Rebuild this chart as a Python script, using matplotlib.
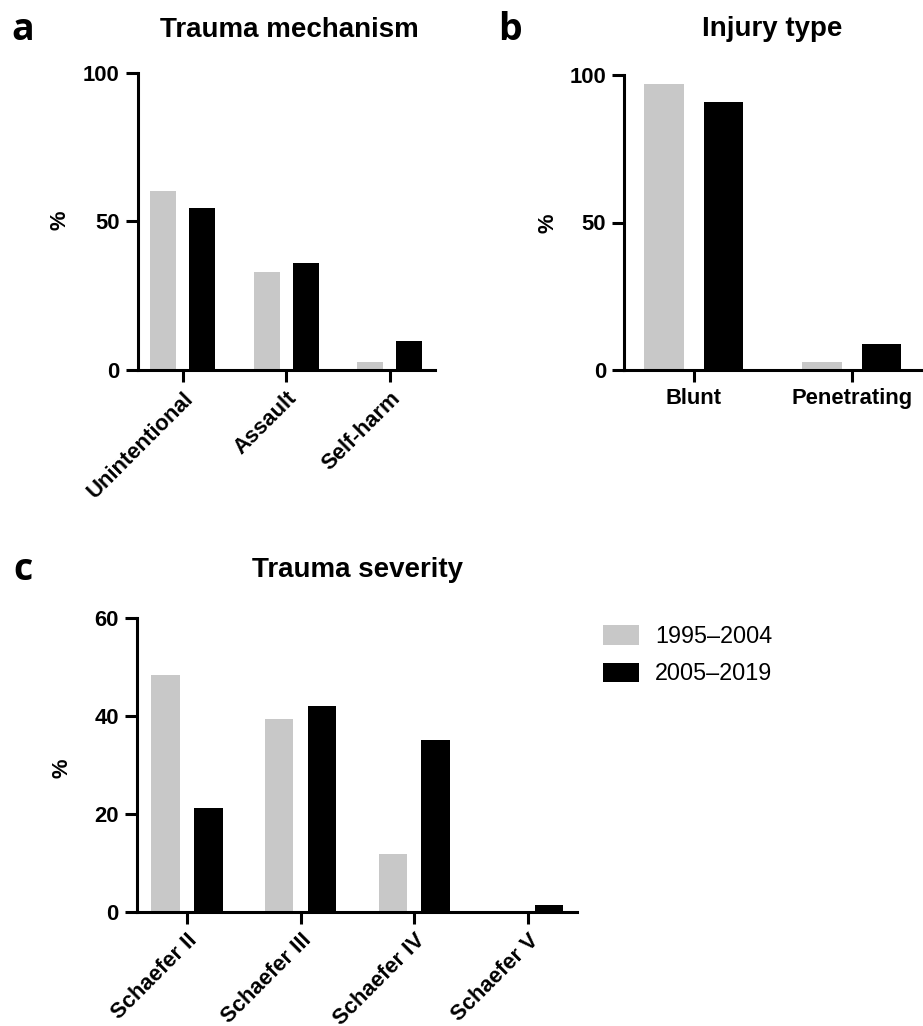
import matplotlib
matplotlib.use("Agg")
import matplotlib.pyplot as plt
import numpy as np
from matplotlib.patches import Patch

# ---- data ----
series_labels = ["1995\u20132004", "2005\u20132019"]
series_colors = ["#C8C8C8", "#000000"]

mech_categories = ["Unintentional", "Assault", "Self-harm"]
mech_early = [60.3, 33.0, 2.8]
mech_late = [54.5, 36.0, 9.8]

type_categories = ["Blunt", "Penetrating"]
type_early = [96.8, 2.8]
type_late = [91.0, 8.7]

sev_categories = ["Schaefer II", "Schaefer III", "Schaefer IV", "Schaefer V"]
sev_early = [48.5, 39.4, 11.9, 0.0]
sev_late = [21.3, 42.1, 35.1, 1.3]

W, H = 923, 1026
fig = plt.figure(figsize=(W / 100, H / 100), dpi=100)
plt.rcParams['font.family'] = ['Liberation Sans', 'DejaVu Sans']

TICK_FS = 15.8


def px_axes(left, top, right, bottom):
    return fig.add_axes([left / W, 1 - bottom / H, (right - left) / W, (bottom - top) / H])


def style(ax, cats, early, late, ylim, yticks, xlim, rot):
    x = np.arange(len(cats))
    bw = 0.25
    off = 0.189
    ax.bar(x - off, early, width=bw, color=series_colors[0], edgecolor='none')
    ax.bar(x + off, late, width=bw, color=series_colors[1], edgecolor='none')
    ax.set_xlim(*xlim)
    ax.set_ylim(*ylim)
    ax.set_yticks(yticks)
    ax.set_xticks(x)
    for s in ['top', 'right']:
        ax.spines[s].set_visible(False)
    for s in ['left', 'bottom']:
        ax.spines[s].set_linewidth(2.2)
    ax.tick_params(axis='both', length=8.5, width=2.2, labelsize=TICK_FS, pad=4.5)
    for lab in ax.get_yticklabels():
        lab.set_fontweight('bold')
    if rot:
        ax.set_xticklabels(cats, rotation=45, ha='right', rotation_mode='anchor',
                           fontweight='bold', fontsize=TICK_FS)
    else:
        ax.set_xticklabels(cats, fontweight='bold', fontsize=TICK_FS)
    ax.patch.set_visible(False)


ax_a = px_axes(137.7, 72.7, 435, 370)
style(ax_a, mech_categories, mech_early, mech_late, (0, 100), [0, 50, 100], (-0.436, 2.44), True)

ax_b = px_axes(624.3, 75, 921, 370)
style(ax_b, type_categories, type_early, type_late, (0, 100), [0, 50, 100], (-0.442, 1.44), False)

ax_c = px_axes(136.7, 618.3, 577.3, 911.7)
style(ax_c, sev_categories, sev_early, sev_late, (0, 60), [0, 20, 40, 60], (-0.443, 3.436), True)

# y labels
for (xp, yp) in [(60, 220), (548, 223), (62, 768)]:
    fig.text(xp / W, 1 - yp / H, "%", rotation=90, ha='center', va='center',
             fontsize=TICK_FS, fontweight='bold')

# titles
fig.text(289 / W, 1 - 37 / H, "Trauma mechanism", ha='center', va='baseline',
         fontsize=20, fontweight='bold')
fig.text(772.5 / W, 1 - 36 / H, "Injury type", ha='center', va='baseline',
         fontsize=20, fontweight='bold')
fig.text(358 / W, 1 - 577 / H, "Trauma severity", ha='center', va='baseline',
         fontsize=20, fontweight='bold')

# panel letters
for (xp, yp, t) in [(23, 40, "a"), (510, 40, "b"), (23, 580, "c")]:
    fig.text(xp / W, 1 - yp / H, t, ha='center', va='baseline', fontsize=27,
             fontweight='bold', family=['Open Sans', 'DejaVu Sans'])

# legend
handles = [Patch(facecolor=series_colors[i], edgecolor='none', label=series_labels[i]) for i in range(2)]
fig.legend(handles=handles, loc='upper left', bbox_to_anchor=(603 / W, 1 - 625 / H),
           frameon=False, fontsize=16.8, handlelength=1.55, handleheight=0.9,
           handletextpad=0.69, labelspacing=0.62, borderpad=0, borderaxespad=0)

fig.savefig("out.png", dpi=100)
